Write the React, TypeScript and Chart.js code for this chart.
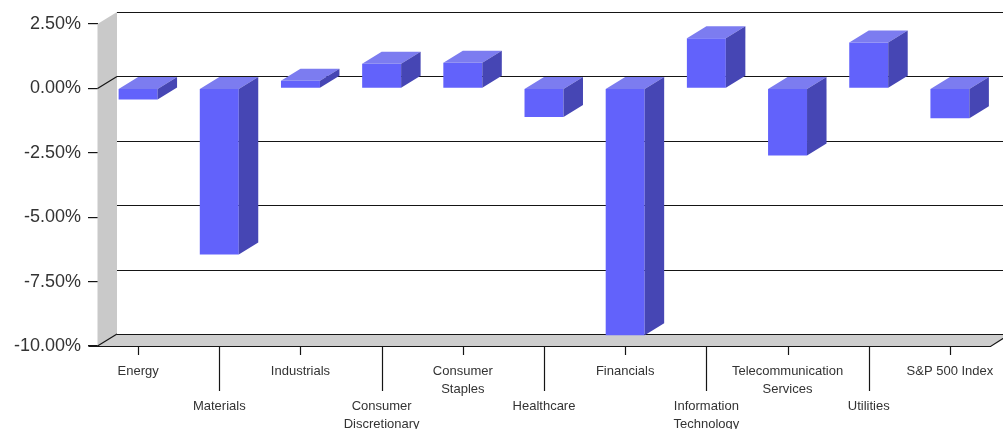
import React, { useEffect, useRef } from "react";
import { Chart, registerables } from "chart.js";

Chart.register(...registerables);

const categories: string[] = [
  "Energy",
  "Materials",
  "Industrials",
  "Consumer\nDiscretionary",
  "Consumer\nStaples",
  "Healthcare",
  "Financials",
  "Information\nTechnology",
  "Telecommunication\nServices",
  "Utilities",
  "S&P 500 Index",
];

const returns: number[] = [-0.43, -6.45, 0.3, 0.96, 1.0, -1.11, -9.58, 1.95, -2.6, 1.78, -1.16];

const yTicks: number[] = [2.5, 0, -2.5, -5, -7.5, -10];

const FRONT = "#6262FB";
const TOP = "#7C7CF0";
const SIDE = "#4646B4";
const WALL = "#C9C9C9";
const FLOOR = "#CECECE";
const LINE = "#151515";
const DX = 19.5;
const DY = -12;

const depthPlugin = {
  id: "depth3d",
  beforeDatasetsDraw(chart: any) {
    const { ctx, chartArea, scales } = chart;
    const y = scales.y;
    const L = chartArea.left;
    const R = chartArea.right;
    const T = chartArea.top;
    const B = chartArea.bottom;
    const W = chart.width;
    ctx.save();
    // left wall
    ctx.fillStyle = WALL;
    ctx.beginPath();
    ctx.moveTo(L, T);
    ctx.lineTo(L + DX, T + DY);
    ctx.lineTo(L + DX, B + DY);
    ctx.lineTo(L, B);
    ctx.closePath();
    ctx.fill();
    // floor
    ctx.fillStyle = FLOOR;
    ctx.beginPath();
    ctx.moveTo(L, B);
    ctx.lineTo(L + DX, B + DY);
    ctx.lineTo(R + DX, B + DY);
    ctx.lineTo(R, B);
    ctx.closePath();
    ctx.fill();
    // back wall gridlines
    ctx.strokeStyle = LINE;
    ctx.lineWidth = 1.2;
    for (const v of yTicks) {
      const py = Math.round(y.getPixelForValue(v) + DY) + 0.5;
      ctx.beginPath();
      ctx.moveTo(L + DX, py);
      ctx.lineTo(W, py);
      ctx.stroke();
    }
    // diagonals at 0 and -10
    for (const v of [0, -10]) {
      const py = y.getPixelForValue(v);
      ctx.beginPath();
      ctx.moveTo(L, py);
      ctx.lineTo(L + DX, py + DY);
      ctx.stroke();
    }
    // floor front line and right edge
    ctx.beginPath();
    ctx.moveTo(L - 9, Math.round(B) + 0.5);
    ctx.lineTo(R, Math.round(B) + 0.5);
    ctx.lineTo(R + DX, B + DY);
    ctx.stroke();
    // x tick marks (alternating lengths)
    const x = scales.x;
    ctx.lineWidth = 1.2;
    for (let i = 0; i < categories.length; i++) {
      const px = Math.round(x.getPixelForValue(i)) + 0.5;
      ctx.beginPath();
      ctx.moveTo(px, B);
      ctx.lineTo(px, B + (i % 2 === 0 ? 9 : 45));
      ctx.stroke();
    }
    ctx.restore();
  },
  afterDatasetsDraw(chart: any) {
    const { ctx } = chart;
    const meta = chart.getDatasetMeta(0);
    ctx.save();
    meta.data.forEach((bar: any) => {
      const p = bar.getProps(["x", "y", "base", "width"], true);
      const left = p.x - p.width / 2;
      const right = p.x + p.width / 2;
      const top = Math.min(p.y, p.base);
      const bottom = Math.max(p.y, p.base);
      // top face
      ctx.fillStyle = TOP;
      ctx.beginPath();
      ctx.moveTo(left, top);
      ctx.lineTo(left + DX, top + DY);
      ctx.lineTo(right + DX, top + DY);
      ctx.lineTo(right, top);
      ctx.closePath();
      ctx.fill();
      // side face
      ctx.fillStyle = SIDE;
      ctx.beginPath();
      ctx.moveTo(right, top);
      ctx.lineTo(right + DX, top + DY);
      ctx.lineTo(right + DX, bottom + DY);
      ctx.lineTo(right, bottom);
      ctx.closePath();
      ctx.fill();
    });
    ctx.restore();
  },
};

export default function App() {
  const ref = useRef<HTMLCanvasElement | null>(null);
  useEffect(() => {
    if (!ref.current) return;
    const labels = categories.map((c, i) => {
      const lines = c.split("\n");
      return i % 2 === 0 ? lines : ["", "", ...lines];
    });
    const chart = new Chart(ref.current, {
      type: "bar",
      data: {
        labels,
        datasets: [
          {
            data: returns,
            backgroundColor: FRONT,
            borderWidth: 0,
            barPercentage: 0.48,
            categoryPercentage: 1,
          },
        ],
      },
      options: {
        animation: false,
        responsive: false,
        maintainAspectRatio: false,
        layout: { padding: { top: 24, right: 12.5, left: 0, bottom: 0 } },
        plugins: { legend: { display: false }, tooltip: { enabled: false } },
        scales: {
          x: {
            grid: { display: false, drawTicks: false },
            border: { display: false },
            ticks: {
              padding: 17,
              maxRotation: 0,
              autoSkip: false,
              color: "#333",
              font: { family: "'Liberation Sans', Arial, sans-serif", size: 13, lineHeight: "17.5px" },
            },
            afterFit: (s: any) => {
              s.height = 83;
              s.paddingLeft = 0;
              s.paddingRight = 0;
            },
          },
          y: {
            min: -10,
            max: 2.5,
            grid: { drawOnChartArea: false, drawTicks: true, tickLength: 9.5, color: LINE, lineWidth: 1.2 },
            border: { display: false },
            ticks: {
              stepSize: 2.5,
              padding: 7,
              color: "#333",
              font: { family: "'Liberation Sans', Arial, sans-serif", size: 18 },
              callback: (v: any) => Number(v).toFixed(2) + "%",
            },
            afterFit: (s: any) => {
              s.width = 97.5;
            },
          },
        },
      },
      plugins: [depthPlugin],
    });
    return () => chart.destroy();
  }, []);
  return (
    <div style={{ position: "fixed", left: 0, top: 0, width: 1003, height: 429, background: "#fff" }}>
      <canvas ref={ref} width={1003} height={429} style={{ display: "block" }} />
    </div>
  );
}
